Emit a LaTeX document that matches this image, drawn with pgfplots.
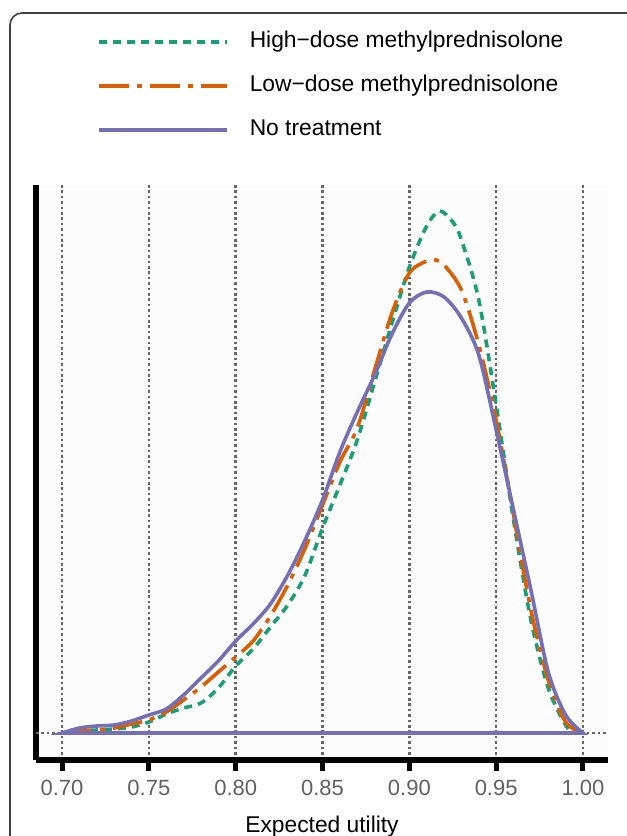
\documentclass[border=0pt]{standalone}
\usepackage{fontspec}
\setmainfont{Liberation Sans}
\usepackage{pgfplots}
\pgfplotsset{compat=1.18}
\definecolor{hdgreen}{HTML}{1B9E77}
\definecolor{ldorange}{HTML}{D95F02}
\definecolor{ntpurple}{HTML}{7570B3}
\newcommand{\ff}{\fontsize{22}{26}\selectfont}
\newcommand{\fl}{\fontsize{22.8}{27}\selectfont}

\begin{document}
\begin{tikzpicture}[x=1pt,y=1pt]
\path[use as bounding box] (0,0) rectangle (627,-836);
\draw[line width=1.6pt, black!75, rounded corners=12pt] (10,-13) rectangle (720,-920);
\begin{axis}[
  at={(36pt,-760pt)}, anchor=south west,
  scale only axis, width=572pt, height=575pt,
  xmin=0.685, xmax=1.0144, ymin=-0.27, ymax=5.48,
  axis x line*=bottom, axis y line*=left,
  axis line style={line width=5.5pt, -},
  axis background/.style={fill=black!1},
  xtick={0.70,0.75,0.80,0.85,0.90,0.95,1.00},
  xticklabels={0.70,0.75,0.80,0.85,0.90,0.95,1.00},
  ytick=\empty,
  extra y ticks={0}, extra y tick labels={},
  extra y tick style={grid=major, major tick length=0pt},
  tick align=outside, major tick length=11pt,
  tick style={line width=5pt, black},
  xmajorgrids,
  grid style={line width=2.5pt, black!60, dash pattern=on 2.6pt off 2.8pt},
  xticklabel style={font=\ff, text=black!62, anchor=base, yshift=-24pt},
  /pgf/number format/assume math mode=true,
  xlabel={Expected utility},
  xlabel style={font=\fl, at={(axis description cs:0.5,-0.1252)}, anchor=base},
  legend cell align=left,
  legend image code/.code={\draw[#1] (0pt,0pt) -- (128pt,0pt);},
  legend style={at={(axis description cs:0.1066,1.1722)}, anchor=west,
    draw=none, fill=none, inner sep=0pt, row sep=23pt, column sep=21pt,
    font=\fl, nodes={inner sep=0pt, text depth=5pt, text height=16pt}},
]
\addplot[hdgreen, line width=3.6pt, dash pattern=on 8pt off 6pt, smooth] coordinates {
  (0.70,0) (0.71,0.02) (0.72,0.03) (0.73,0.04) (0.74,0.06) (0.75,0.11)
  (0.76,0.19) (0.77,0.25) (0.78,0.30) (0.79,0.45) (0.80,0.67) (0.81,0.84)
  (0.82,1.06) (0.83,1.28) (0.84,1.58) (0.85,2.05) (0.86,2.48) (0.87,2.93)
  (0.88,3.51) (0.89,4.10) (0.90,4.66) (0.91,5.07) (0.9175,5.22) (0.925,5.11)
  (0.93,4.93) (0.94,4.33) (0.95,3.28) (0.96,2.13) (0.97,1.13) (0.98,0.45)
  (0.99,0.08) (0.995,0.01) (1.00,0)
} \closedcycle;
\addlegendentry{High−dose methylprednisolone}
\addplot[ldorange, line width=3.6pt, dash pattern=on 30pt off 8pt on 5pt off 8pt, smooth] coordinates {
  (0.70,0) (0.71,0.02) (0.72,0.03) (0.73,0.05) (0.74,0.09) (0.75,0.13)
  (0.76,0.21) (0.77,0.33) (0.78,0.46) (0.79,0.61) (0.80,0.76) (0.81,0.92)
  (0.82,1.17) (0.83,1.48) (0.84,1.85) (0.85,2.28) (0.86,2.71) (0.87,3.05)
  (0.88,3.63) (0.89,4.20) (0.90,4.60) (0.91,4.72) (0.915,4.73) (0.92,4.68)
  (0.93,4.43) (0.94,3.88) (0.95,3.13) (0.96,2.18) (0.97,1.23) (0.98,0.53)
  (0.99,0.11) (1.00,0)
} \closedcycle;
\addlegendentry{Low−dose methylprednisolone}
\addplot[ntpurple, line width=3.6pt, smooth] coordinates {
  (0.70,0) (0.71,0.05) (0.72,0.07) (0.73,0.08) (0.74,0.12) (0.75,0.18)
  (0.76,0.24) (0.77,0.38) (0.78,0.55) (0.79,0.72) (0.80,0.92) (0.81,1.09)
  (0.82,1.29) (0.83,1.58) (0.84,1.93) (0.85,2.33) (0.86,2.81) (0.87,3.21)
  (0.88,3.58) (0.89,3.99) (0.90,4.30) (0.91,4.41) (0.92,4.36) (0.93,4.15)
  (0.94,3.78) (0.95,3.03) (0.96,2.23) (0.97,1.43) (0.98,0.61) (0.99,0.18)
  (1.00,0)
} \closedcycle;
\addlegendentry{No treatment}
\end{axis}
\end{tikzpicture}
\end{document}
